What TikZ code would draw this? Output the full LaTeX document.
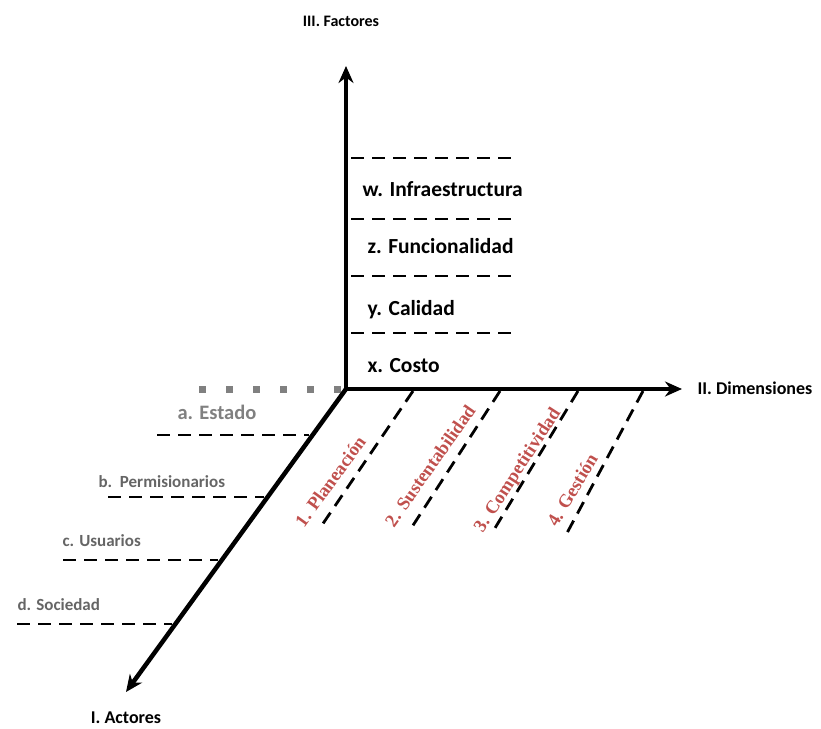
\documentclass[tikz,border=0pt]{standalone}
\usepackage{fontspec}
\setmainfont{Carlito}
\newfontfamily\serifred{Liberation Serif}
\usetikzlibrary{arrows.meta}
\definecolor{labred}{HTML}{C0504D}
\definecolor{dotgray}{HTML}{808080}
\definecolor{actgray}{HTML}{656565}
\tikzset{
  axis/.style={line width=4.5pt,-{Stealth[length=17pt,width=15pt]}},
  grid/.style={line width=2.8pt,dash pattern=on 13pt off 8pt},
  axislabel/.style={font=\bfseries\fontsize{18}{20}\selectfont},
  factor/.style={anchor=west,font=\bfseries\fontsize{21.5}{24}\selectfont},
  actor/.style={anchor=west,text=actgray,font=\bfseries\fontsize{17}{19}\selectfont},
  dimlabel/.style={anchor=base west,text=labred,font=\serifred\bfseries\fontsize{18.5}{21}\selectfont}
}
\begin{document}
\begin{tikzpicture}[x=1pt,y=-1pt]
\useasboundingbox (0,0) rectangle (821,728);

% origin and axis ends
\coordinate (O) at (346,389);
\coordinate (ztop) at (346,66);
\coordinate (xend) at (682,389);
\coordinate (yend) at (126,692);

% gray dotted extension behind the origin
\foreach \x in {202,229,256,283,310,337}
  \fill[dotgray] (\x-3.5,385.5) rectangle (\x+3.5,392.5);

% factor levels on the vertical axis
\foreach \y/\n in {158/f1,219/f2,276/f3,333/f4}{
  \coordinate (\n a) at (351,\y);
  \coordinate (\n b) at (512,\y);
  \draw[grid] (\n a) -- (\n b);
}
\node[factor] (w) at (359,189) {w. Infraestructura};
\node[factor] (z) at (364,246) {z. Funcionalidad};
\node[factor] (yc) at (364,310) {y. Calidad};
\node[factor] (xc) at (364,366) {x. Costo};

% actor levels on the diagonal axis
\foreach \y/\xa/\xb/\n in {435/157/309/a1,497/108/264/a2,560/63/218/a3,624/17/172/a4}{
  \coordinate (\n a) at (\xa,\y);
  \coordinate (\n b) at (\xb,\y);
  \draw[grid] (\n a) -- (\n b);
}
\node[actor,text=dotgray,font=\bfseries\fontsize{20.5}{22}\selectfont] (ea) at (174,412) {a. Estado};
\node[actor] (eb) at (95,482) {b.\ \ Permisionarios};
\node[actor] (ec) at (59,541) {c. Usuarios};
\node[actor] (ed) at (14,605) {d. Sociedad};

% dimension levels along the horizontal axis
\foreach \xa/\ya/\xb/\yb/\n in {413/391/320/528/d1,500/391/410/530/d2,578/391/492/533/d3,643/391/567/533/d4}{
  \coordinate (\n a) at (\xa,\ya);
  \coordinate (\n b) at (\xb,\yb);
  \draw[grid] (\n a) -- (\n b);
}
\node[dimlabel,rotate=54] (p1) at (302,531) {1. Planeación};
\node[dimlabel,rotate=55] (p2) at (392,531) {2. Sustentabilidad};
\node[dimlabel,rotate=57] (p3) at (481,536) {3. Competitividad};
\node[dimlabel,rotate=59] (p4) at (555,531) {4. Gestión};

% the three axes
\draw[axis] (O) -- (ztop);
\draw[axis] (O) -- (xend);
\draw[axis] (O) -- (yend);

% axis titles
\node[axislabel,font=\bfseries\fontsize{16}{18}\selectfont] (tz) at (341,21) {III. Factores};
\node[axislabel,anchor=west] (tx) at (694,388) {II. Dimensiones};
\node[axislabel] (ty) at (126,718) {I. Actores};
\end{tikzpicture}
\end{document}
